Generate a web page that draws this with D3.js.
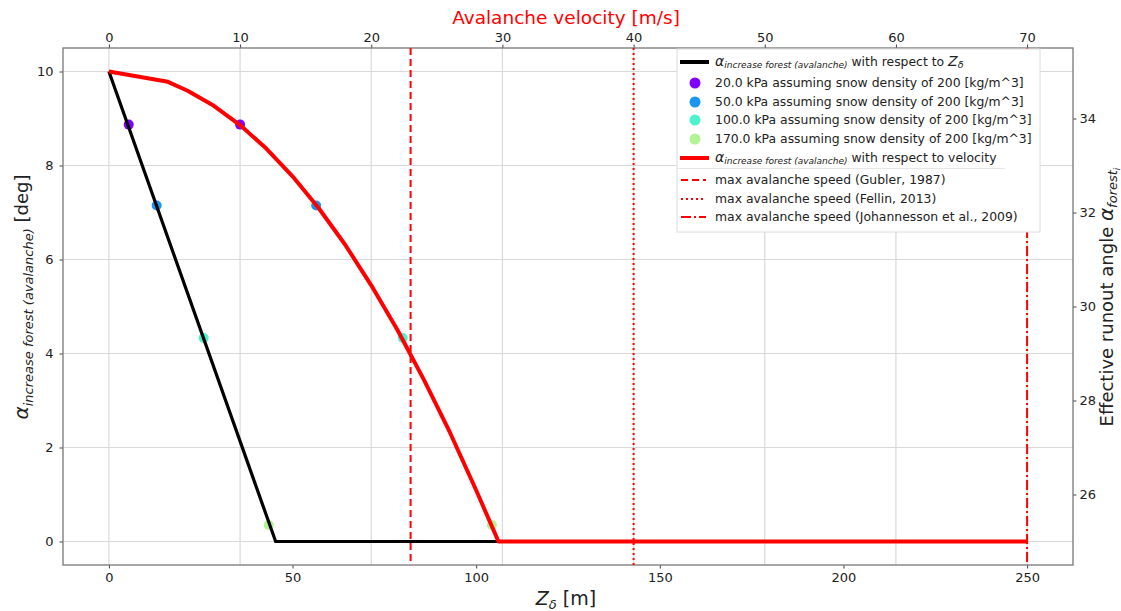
<!DOCTYPE html>
<html><head><meta charset="utf-8">
<script src="https://cdn.jsdelivr.net/npm/d3@7"></script>
<style>
body{margin:0;background:#fff;}
text{font-family:"DejaVu Sans",sans-serif;}
</style></head>
<body><svg id="c" width="1121" height="611"></svg>
<script>
// ---- data ----
const zDelta = [0, 45.4, 106];
const alphaZ = [10, 0, 0];
const velocity = [0, 4.5, 6, 8, 10, 12, 14, 16, 18, 20, 22, 24, 26, 28, 29.7, 70];
const alphaVel = [10, 9.78, 9.59, 9.27, 8.86, 8.36, 7.77, 7.09, 6.32, 5.45, 4.5, 3.45, 2.32, 1.09, 0, 0];
const pressures = ["20.0", "50.0", "100.0", "170.0"];
const pointColors = ["#8000ff", "#1996f3", "#4df3ce", "#b2f396"];
const zPoints = [5.4, 13.0, 25.8, 43.5];
const vPoints = [10.0, 15.8, 22.4, 29.2];
const alphaPoints = [8.87, 7.15, 4.33, 0.35];
const maxSpeeds = [23, 40, 70];
const maxSpeedLabels = ["max avalanche speed (Gubler, 1987)", "max avalanche speed (Fellin, 2013)", "max avalanche speed  (Johannesson et al., 2009)"];
const maxSpeedDash = ["7,4", "2,3", "10,3,2,3"];
const zTicks = [0, 50, 100, 150, 200, 250];
const vTicks = [0, 10, 20, 30, 40, 50, 60, 70];
const yTicks = [0, 2, 4, 6, 8, 10];
const yRightTicks = [26, 28, 30, 32, 34];

const svg = d3.select("#c");
const L = 63, R = 1073, T = 48, B = 565;
const x = d3.scaleLinear().domain([-12.5, 262.5]).range([L, R]);
const xv = d3.scaleLinear().domain([-3.5, 73.5]).range([L, R]);
const y = d3.scaleLinear().domain([-0.5, 10.5]).range([B, T]);
const yr = d3.scaleLinear().domain([24.5, 35.5]).range([B, T]);

// grid
const grid = svg.append("g");
grid.selectAll(".gv").data(vTicks).join("line")
  .attr("x1", d => xv(d)).attr("x2", d => xv(d)).attr("y1", T).attr("y2", B)
  .attr("stroke", "#d9d9d9").attr("stroke-width", 1.2);
grid.selectAll(".gh").data(yTicks).join("line")
  .attr("x1", L).attr("x2", R).attr("y1", d => y(d)).attr("y2", d => y(d))
  .attr("stroke", "#d9d9d9").attr("stroke-width", 1.2);

// axes
const fs = "13px";
const gB = svg.append("g").attr("transform", `translate(0,${B})`).call(d3.axisBottom(x).tickValues(zTicks).tickSize(3.5).tickPadding(4));
const gT = svg.append("g").attr("transform", `translate(0,${T})`).call(d3.axisTop(xv).tickValues(vTicks).tickSize(3.5).tickPadding(3));
const gL = svg.append("g").attr("transform", `translate(${L},0)`).call(d3.axisLeft(y).tickValues(yTicks).tickSize(3.5).tickPadding(6));
const gR = svg.append("g").attr("transform", `translate(${R},0)`).call(d3.axisRight(yr).tickValues(yRightTicks).tickSize(3.5).tickPadding(3));
[gB, gT, gL, gR].forEach(g => {
  g.select(".domain").remove();
  g.selectAll("line").attr("stroke", "#444");
  g.selectAll("text").style("font-size", fs).attr("fill", "#222").style("font-family", "DejaVu Sans");
});
svg.append("rect").attr("x", L).attr("y", T).attr("width", R - L).attr("height", B - T)
  .attr("fill", "none").attr("stroke", "#777").attr("stroke-width", 1.3);

// points
const pts = svg.append("g");
pressures.forEach((p, i) => {
  pts.append("circle").attr("cx", x(zPoints[i])).attr("cy", y(alphaPoints[i])).attr("r", 5).attr("fill", pointColors[i]);
  pts.append("circle").attr("cx", xv(vPoints[i])).attr("cy", y(alphaPoints[i])).attr("r", 5).attr("fill", pointColors[i]);
});

// black line (Zdelta)
const lineZ = d3.line().x((d, i) => x(zDelta[i])).y((d, i) => y(alphaZ[i]));
svg.append("path").attr("d", lineZ(zDelta)).attr("fill", "none").attr("stroke", "#000").attr("stroke-width", 3.2);

// red line (velocity)
const lineV = d3.line().x((d, i) => xv(velocity[i])).y((d, i) => y(alphaVel[i]));
svg.append("path").attr("d", lineV(velocity)).attr("fill", "none").attr("stroke", "#ff0000").attr("stroke-width", 4)
  .attr("stroke-linejoin", "round");

// vertical speed lines
maxSpeeds.forEach((s, i) => {
  svg.append("line").attr("x1", xv(s)).attr("x2", xv(s)).attr("y1", T).attr("y2", B)
    .attr("stroke", "#ff0000").attr("stroke-width", 2).attr("stroke-dasharray", maxSpeedDash[i]);
});

// labels
svg.append("text").attr("x", 566).attr("y", 24).attr("text-anchor", "middle")
  .attr("fill", "#ff0000").style("font-size", "18.5px").text("Avalanche velocity [m/s]");
const xl = svg.append("text").attr("x", 566).attr("y", 605).attr("text-anchor", "middle").attr("fill", "#222").style("font-size", "19px");
xl.append("tspan").style("font-style", "italic").text("Z");
xl.append("tspan").attr("dy", 4).style("font-size", "13px").style("font-style", "italic").text("δ");
xl.append("tspan").attr("dy", -4).text(" [m]");

const yl = svg.append("text").attr("transform", "translate(28,297) rotate(-90)").attr("text-anchor", "middle").attr("fill", "#222").style("font-size", "18px");
yl.append("tspan").style("font-style", "italic").style("font-size", "20px").text("α");
yl.append("tspan").attr("dy", 5).style("font-size", "13px").style("font-style", "italic").text("increase forest (avalanche)");
yl.append("tspan").attr("dy", -5).text("  [deg]");

const yrl = svg.append("text").attr("transform", "translate(1113,297) rotate(-90)").attr("text-anchor", "middle").attr("fill", "#222").style("font-size", "18px");
yrl.append("tspan").text("Effective runout angle ");
yrl.append("tspan").style("font-style", "italic").style("font-size", "20px").text("α");
yrl.append("tspan").attr("dy", 4).style("font-size", "13px").style("font-style", "italic").text("forest");
yrl.append("tspan").attr("dy", 3).style("font-size", "9px").style("font-style", "italic").text("i");

// legend
const lg = svg.append("g");
lg.append("rect").attr("x", 677).attr("y", 49).attr("width", 363).attr("height", 183)
  .attr("fill", "#fff").attr("stroke", "#dcdcdc").attr("stroke-width", 1);
lg.append("line").attr("x1", 677).attr("x2", 1005).attr("y1", 168.5).attr("y2", 168.5).attr("stroke", "#e6e6e6");
const lfs = "12.4px";
const tx = 715;
function mathLabel(yy) {
  const t = lg.append("text").attr("x", tx).attr("y", yy + 4).attr("fill", "#222").style("font-size", lfs);
  t.append("tspan").style("font-style", "italic").style("font-size", "14px").text("α");
  t.append("tspan").attr("dy", 2).style("font-style", "italic").style("font-size", "9px").text("increase forest (avalanche)");
  t.append("tspan").attr("dy", -2).text(" with respect to ");
  return t;
}
lg.append("line").attr("x1", 680).attr("x2", 709).attr("y1", 62).attr("y2", 62).attr("stroke", "#000").attr("stroke-width", 4);
const t0 = mathLabel(62);
t0.append("tspan").style("font-style", "italic").style("font-size", "14px").text("Z");
t0.append("tspan").attr("dy", 2).style("font-style", "italic").style("font-size", "9.5px").text("δ");
const legY = [83, 102, 120, 139];
pressures.forEach((p, i) => {
  lg.append("circle").attr("cx", 695).attr("cy", legY[i]).attr("r", 5.5).attr("fill", pointColors[i]);
  lg.append("text").attr("x", tx).attr("y", legY[i] + 4).attr("fill", "#222").style("font-size", lfs)
    .text(`${p} kPa assuming snow density of 200 [kg/m^3]`);
});
lg.append("line").attr("x1", 680).attr("x2", 709).attr("y1", 158).attr("y2", 158).attr("stroke", "#ff0000").attr("stroke-width", 4);
const t1 = mathLabel(158);
t1.append("tspan").text("velocity");
const legY2 = [180, 199, 217];
maxSpeeds.forEach((s, i) => {
  lg.append("line").attr("x1", 681).attr("x2", 706).attr("y1", legY2[i]).attr("y2", legY2[i])
    .attr("stroke", "#ff0000").attr("stroke-width", 2).attr("stroke-dasharray", maxSpeedDash[i]);
  lg.append("text").attr("x", tx).attr("y", legY2[i] + 4).attr("fill", "#222").style("font-size", lfs).text(maxSpeedLabels[i]);
});
</script></body></html>
